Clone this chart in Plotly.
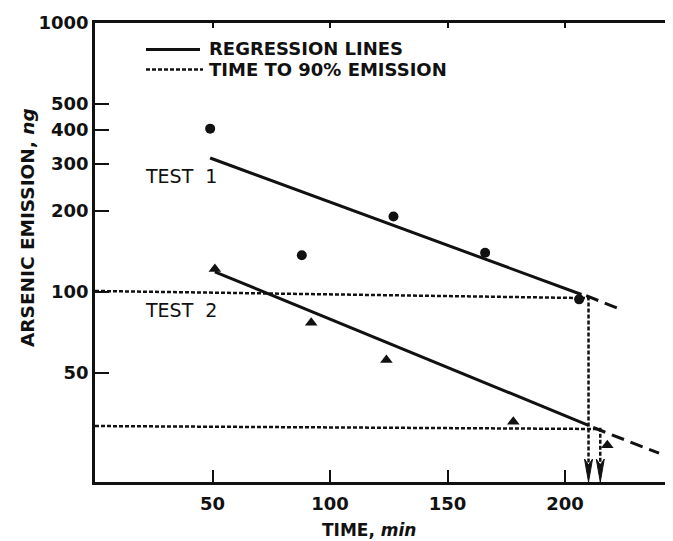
import numpy as np
import plotly.graph_objects as go

# ---------------- data ----------------
# Test 1 measurements (filled circles): time (min), arsenic emission (ng)
test1_time = [49, 88, 127, 166, 206]
test1_as = [405, 137, 191, 140, 94]
# Test 2 measurements (filled triangles)
test2_time = [51, 92, 124, 178, 218]
test2_as = [122, 77, 56, 33, 27]

# Regression lines: fitted (solid) part and extrapolated (dashed) part
reg1_time = [49, 207]
reg1_as = [315, 98]
reg1_ext_time = [209, 224]
reg1_ext_as = [97, 86]
reg2_time = [51, 210]
reg2_as = [119, 32]
reg2_ext_time = [212, 240]
reg2_ext_as = [31.4, 25.2]

# Time to 90% emission: level at time 0, level at the crossing, crossing time
t90_level_start = [101, 31.8]
t90_level_end = [95, 31.0]
t90_time = [210, 215]

x_ticks = [50, 100, 150, 200]
y_ticks = [50, 100, 200, 300, 400, 500, 1000]
y_ticklabels = ["50", "100", "200", "300", "400", "500", "1000"]

# ---------------- layout geometry ----------------
W, H = 673, 541
M = dict(l=87, r=2, t=15, b=67)
PW = W - M["l"] - M["r"]
PH = H - M["t"] - M["b"]
X_RANGE = [0, 248.5]
Y_RANGE = [np.log10(19.7), 3.0]
min_per_px = (X_RANGE[1] - X_RANGE[0]) / PW
dec_per_px = (Y_RANGE[1] - Y_RANGE[0]) / PH


def px(xp):
    return (xp - M["l"]) / PW


def py(yp):
    return (H - M["b"] - yp) / PH


FONT = "DejaVu Sans"
BLACK = "#111111"

fig = go.Figure()

# regression lines
for tx, ty in [(reg1_time, reg1_as), (reg2_time, reg2_as)]:
    fig.add_trace(go.Scatter(x=tx, y=ty, mode="lines",
                             line=dict(color=BLACK, width=3), showlegend=False,
                             hoverinfo="skip"))
for tx, ty in [(reg1_ext_time, reg1_ext_as), (reg2_ext_time, reg2_ext_as)]:
    fig.add_trace(go.Scatter(x=tx, y=ty, mode="lines",
                             line=dict(color=BLACK, width=3, dash="13px,7px"),
                             showlegend=False, hoverinfo="skip"))

# time-to-90% dotted construction lines with arrows
y_tip = 10 ** Y_RANGE[0]
y_base = 10 ** (Y_RANGE[0] + 23 * dec_per_px)
y_notch = 10 ** (Y_RANGE[0] + 17 * dec_per_px)
half_w = 4 * min_per_px
for lv0, lv1, t in zip(t90_level_start, t90_level_end, t90_time):
    fig.add_trace(go.Scatter(x=[X_RANGE[0], t, t], y=[lv0, lv1, y_notch],
                             mode="lines",
                             line=dict(color=BLACK, width=2.5, dash="4px,2px"),
                             showlegend=False, hoverinfo="skip"))
    fig.add_trace(go.Scatter(x=[t, t - half_w, t, t + half_w, t],
                             y=[y_tip, y_base, y_notch, y_base, y_tip],
                             mode="lines", fill="toself", fillcolor=BLACK,
                             line=dict(color=BLACK, width=1),
                             showlegend=False, hoverinfo="skip"))

# measurement points
fig.add_trace(go.Scatter(x=test1_time, y=test1_as, mode="markers",
                         marker=dict(symbol="circle", size=10, color=BLACK),
                         showlegend=False))
fig.add_trace(go.Scatter(x=test2_time, y=test2_as, mode="markers",
                         marker=dict(symbol="triangle-up", size=11, color=BLACK),
                         showlegend=False))

# mirror axes (short ticks on top and right)
fig.add_trace(go.Scatter(x=[], y=[], xaxis="x2", yaxis="y2", showlegend=False))

axis_common = dict(showgrid=False, zeroline=False, showline=True,
                   linecolor=BLACK, linewidth=2.5, ticks="inside",
                   tickcolor=BLACK, tickwidth=1.5)

fig.update_layout(
    width=W, height=H, margin=M,
    paper_bgcolor="white", plot_bgcolor="white",
    font=dict(family=FONT, color=BLACK),
    xaxis=dict(range=X_RANGE, tickvals=x_ticks, ticklen=12,
               tickfont=dict(family=FONT, size=18, weight="bold"),
               ticklabelstandoff=4, **axis_common),
    yaxis=dict(type="log", range=Y_RANGE, tickvals=y_ticks,
               ticktext=y_ticklabels, ticklen=14,
               tickfont=dict(family=FONT, size=18, weight="bold"),
               **axis_common),
    xaxis2=dict(range=X_RANGE, tickvals=x_ticks, ticklen=5, overlaying="x",
                side="top", anchor="y2", showticklabels=False, **axis_common),
    yaxis2=dict(type="log", range=Y_RANGE, tickvals=y_ticks, ticklen=6,
                overlaying="y", side="right", anchor="x2",
                showticklabels=False, **axis_common),
)

# manual legend
fig.add_shape(type="line", xref="paper", yref="paper",
              x0=px(138), x1=px(192), y0=py(41.5), y1=py(41.5),
              line=dict(color=BLACK, width=3))
fig.add_shape(type="line", xref="paper", yref="paper",
              x0=px(138), x1=px(195), y0=py(61.5), y1=py(61.5),
              line=dict(color=BLACK, width=2.5, dash="4px,2px"))
legend_font = dict(family=FONT, size=18, weight="bold", color=BLACK)
fig.add_annotation(text="REGRESSION LINES", xref="paper", yref="paper",
                   x=px(199), y=py(41), xanchor="left", yanchor="middle",
                   showarrow=False, font=legend_font)
fig.add_annotation(text="TIME TO 90% EMISSION", xref="paper", yref="paper",
                   x=px(199), y=py(61), xanchor="left", yanchor="middle",
                   showarrow=False, font=legend_font)

# series labels
label_font = dict(family=FONT, size=19, color=BLACK)
fig.add_annotation(text="TEST\u00a0\u00a01", xref="paper", yref="paper",
                   x=px(135), y=py(168), xanchor="left", yanchor="middle",
                   showarrow=False, font=label_font)
fig.add_annotation(text="TEST\u00a0\u00a02", xref="paper", yref="paper",
                   x=px(135), y=py(301.5), xanchor="left", yanchor="middle",
                   showarrow=False, font=label_font)

# axis titles
fig.add_annotation(text="ARSENIC EMISSION, <i>ng</i>", xref="paper", yref="paper",
                   x=px(19), y=py(220), xanchor="center", yanchor="middle",
                   textangle=-90, showarrow=False,
                   font=dict(family=FONT, size=18.5, weight="bold", color=BLACK))
fig.add_annotation(text="TIME, <i>min</i>", xref="paper", yref="paper",
                   x=px(361), y=py(522), xanchor="center", yanchor="middle",
                   showarrow=False,
                   font=dict(family=FONT, size=17, weight="bold", color=BLACK))

fig.write_html("out.html")
